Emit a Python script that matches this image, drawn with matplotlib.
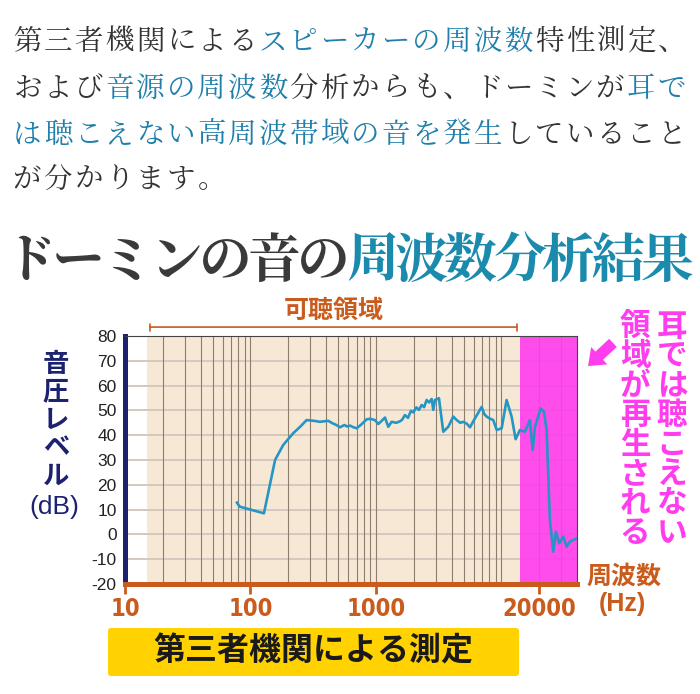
import numpy as np
import matplotlib.pyplot as plt
from matplotlib import ticker
from matplotlib.patches import FancyBboxPatch

JP = ['Noto Sans CJK JP', 'DejaVu Sans']
JP_SERIF = ['Noto Serif CJK JP', 'Noto Sans CJK JP', 'DejaVu Sans']
plt.rcParams['font.family'] = JP

freq_hz = [78, 82, 128, 157, 182, 219, 250, 280, 320, 358, 417, 450, 480, 517, 560,
           590, 621, 660, 702, 760, 843, 900, 982, 1043, 1100, 1180, 1254, 1334,
           1450, 1553, 1620, 1702, 1800, 1900, 1983, 2100, 2200, 2313, 2420, 2535,
           2650, 2779, 2863, 2953, 3177, 3438, 3769, 4131, 4397, 4700, 4963, 5300,
           5614, 6153, 6956, 7300, 7621, 8000, 8606, 9163, 10040, 10990, 12050,
           12970, 14030, 15380, 16860, 17730, 18500, 20520, 21810, 22910, 24330,
           25870, 27180, 28880, 31070, 33100, 35150, 39720]
level_db = [12.8, 11.2, 8.5, 30.0, 36.0, 40.8, 43.5, 46.1, 45.8, 45.4, 45.8, 44.8,
            44.2, 43.2, 44.1, 43.5, 43.9, 43.2, 42.8, 44.2, 46.4, 46.6, 46.1, 44.5,
            45.6, 47.1, 43.4, 45.4, 45.0, 45.6, 46.3, 48.1, 47.0, 49.8, 49.2, 51.2,
            50.2, 52.2, 51.3, 54.2, 53.2, 54.6, 50.2, 54.2, 54.9, 41.4, 43.4, 47.5,
            46.1, 45.0, 45.4, 44.6, 43.2, 46.8, 51.4, 48.5, 47.5, 46.8, 46.1, 42.1,
            42.8, 54.2, 47.5, 38.4, 42.1, 41.4, 46.1, 34.0, 43.4, 50.8, 49.5, 42.1,
            5.8, -7.0, 1.1, -3.6, -0.9, -5.0, -2.9, -1.6]

x_ticks = [10, 100, 1000, 20000]
x_labels = ['10', '100', '1000', '20000']
y_ticks = list(range(-20, 81, 10))
x_range = (10, 40000)
audible = (15, 14000)

DARK = '#333333'
BLUE = '#1f7fab'
TEAL = '#1a8aad'
ORANGE = '#c95b1c'
NAVY = '#1c2270'
MAGENTA = '#ff3cee'
BEIGE = '#f7e8d5'
YELLOW = '#ffd200'
LINE = '#2596c4'

intro_lines = [
    [('第三者機関による', DARK), ('スピーカーの周波数', BLUE), ('特性測定、', DARK)],
    [('および', DARK), ('音源の周波数', BLUE), ('分析からも、ドーミンが', DARK), ('耳で', BLUE)],
    [('は聴こえない高周波帯域の音を発生', BLUE), ('していること', DARK)],
    [('が分かります。', DARK)],
]
title_parts = [('ドーミンの音の', '#3a3a3a'), ('周波数分析結果', TEAL)]

W, H = 700, 694


def put(fig, x, y, s, **kw):
    # place text by pixel position of the 700x694 picture
    return fig.text(x / W, 1 - y / H, s, ha='center', va='center', **kw)


def put_row(fig, parts, x0, pitch, y, **kw):
    i = 0
    for seg, color in parts:
        for ch in seg:
            put(fig, x0 + i * pitch, y, ch, color=color, **kw)
            i += 1


def chart(ax):
    ax.set_xscale('log')
    ax.set_xlim(*x_range)
    ax.set_ylim(-20, 80)
    ax.set_facecolor('white')

    ax.axvspan(audible[0], x_range[1], color=BEIGE, lw=0, zorder=0.2)
    ax.grid(axis='y', color='#d2c9bf', lw=1.4, zorder=0.5)
    ax.set_axisbelow(True)

    minor = ticker.LogLocator(base=10, subs=np.arange(1, 10)).tick_values(*x_range)
    minor = [f for f in minor if audible[0] < f < x_range[1]]
    ax.vlines(minor, -20, 80, color='#8c7d6c', lw=0.8, zorder=0.6)

    ax.axvspan(audible[1], x_range[1], color=MAGENTA, alpha=0.9, lw=0, zorder=0.7)

    ax.plot(freq_hz, level_db, color=LINE, lw=1.9, zorder=3)

    ax.set_xticks(x_ticks, labels=x_labels,
                  fontfamily=['Liberation Sans Narrow', 'DejaVu Sans'],
                  fontstretch='condensed', fontweight='bold', fontsize=17)
    ax.xaxis.set_minor_locator(ticker.NullLocator())
    ax.tick_params(axis='x', direction='out', length=7, width=2, color=ORANGE,
                   labelcolor=ORANGE, pad=2)
    ax.set_yticks(y_ticks, labels=[str(v) for v in y_ticks],
                  fontfamily=['Liberation Sans', 'DejaVu Sans'], fontsize=12.5)
    ax.tick_params(axis='y', length=0, pad=6, labelcolor='#222222')

    ax.spines['left'].set_color(NAVY)
    ax.spines['left'].set_linewidth(3.6)
    ax.spines['bottom'].set_color(ORANGE)
    ax.spines['bottom'].set_linewidth(3.6)
    for side in ['top', 'right']:
        ax.spines[side].set_color('#444444')
        ax.spines[side].set_linewidth(0.8)

    # audible range bracket
    ax.annotate('', xy=(audible[0], 1.036), xytext=(audible[1], 1.036),
                xycoords=('data', 'axes fraction'),
                arrowprops=dict(arrowstyle='|-|,widthA=0.25,widthB=0.25', color=ORANGE, lw=1.2))
    ax.text(np.sqrt(audible[0] * audible[1]), 1.1, '可聴領域', transform=ax.get_xaxis_transform(),
            ha='center', va='center', color=ORANGE, fontsize=18, fontweight='bold')


def main():
    fig = plt.figure(figsize=(7, 6.94), dpi=100)

    for k, parts in enumerate(intro_lines):
        put_row(fig, parts, 27.4, 30.7, [42, 89, 135, 180][k], fontsize=20.5, family=JP_SERIF)
    put_row(fig, title_parts, 29.5, 49.0, 262, fontsize=38, fontweight='bold', family=JP_SERIF)

    ax = fig.add_axes([125 / W, 1 - 584 / H, 452 / W, 248 / H])
    chart(ax)

    for i, ch in enumerate('音圧レベル'):
        put(fig, 56, 364 + i * 28, ch, color=NAVY, fontsize=19, fontweight='bold')
    put(fig, 54, 507, '(dB)', color=NAVY, fontsize=19,
        family=['Liberation Sans', 'DejaVu Sans'])

    for i, ch in enumerate('耳では聴こえない'):
        put(fig, 672, 327 + i * 29.4, ch, color=MAGENTA, fontsize=22, fontweight='bold')
    for i, ch in enumerate('領域が再生される'):
        put(fig, 635, 327 + i * 29.4, ch, color=MAGENTA, fontsize=22, fontweight='bold')
    ax.annotate('', xy=(586, H - 368), xytext=(615, H - 341), xycoords='figure pixels',
                arrowprops=dict(arrowstyle='simple,head_length=1.1,head_width=1.7,tail_width=0.8',
                                color=MAGENTA, lw=0))

    put(fig, 624, 577, '周波数', color=ORANGE, fontsize=18, fontweight='bold')
    put(fig, 622, 604, '(Hz)', color=ORANGE, fontsize=18, fontweight='bold',
        family=['Liberation Sans', 'DejaVu Sans'])

    box = FancyBboxPatch((108 / W, 1 - 676 / H), 411 / W, 48 / H,
                         boxstyle='round,pad=0,rounding_size=0.004', transform=fig.transFigure,
                         facecolor=YELLOW, edgecolor='none')
    fig.add_artist(box)
    put(fig, 313, 652, '第三者機関による測定', color='#1a1a1a', fontsize=23, fontweight='bold')

    fig.savefig('out.png', dpi=100)


if __name__ == '__main__':
    main()
